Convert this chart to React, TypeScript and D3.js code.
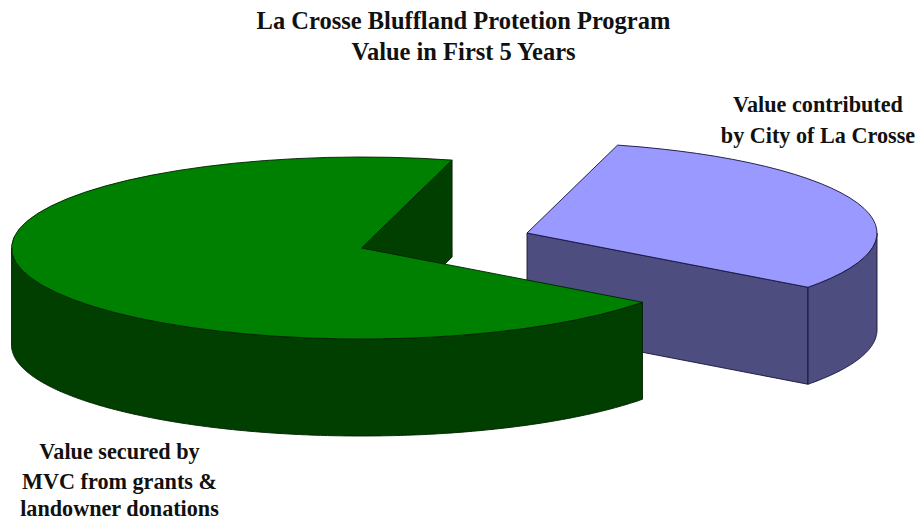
import React from "react";
import * as d3 from "d3";

const sliceNames = ["City of La Crosse", "MVC"];
const sliceValues = [31, 69];
const titleLines = ["La Crosse Bluffland Protetion Program", "Value in First 5 Years"];
const cityLabel = ["Value contributed", "by City of La Crosse"];
const mvcLabel = ["Value secured by", "MVC from grants &", "landowner donations"];

const width = 921;
const height = 521;
const rx = 350;
const ry = 91;
const depth = 97;
const serif = "'Liberation Serif', 'Times New Roman', serif";

const colors: Record<string, { top: string; wall: string; line: string }> = {
  "City of La Crosse": { top: "#9999ff", wall: "#4d4d80", line: "#14143c" },
  MVC: { top: "#008000", wall: "#003f00", line: "#002000" },
};
const centers: Record<string, [number, number]> = {
  "City of La Crosse": [527, 233],
  MVC: [361.5, 248],
};

const slices = d3
  .pie<string>()
  .sort(null)
  .value((d) => sliceValues[sliceNames.indexOf(d)])
  .startAngle((15 * Math.PI) / 180)
  .endAngle((375 * Math.PI) / 180)(sliceNames);

const topArc = d3.arc<d3.PieArcDatum<string>>().innerRadius(0).outerRadius(rx);

// angle runs clockwise from the top of the ellipse, like d3.arc
const px = (t: number) => rx * Math.sin(t);
const py = (t: number) => -ry * Math.cos(t);

// outer rim wall between two angles
const rim = d3
  .area<number>()
  .x(px)
  .y0(py)
  .y1((t) => py(t) + depth);
const rimPath = (a: number, b: number) => rim(d3.range(a, b, 0.01).concat(b)) as string;

// flat cut wall going from the apex out to the rim at angle t
const cutPath = (t: number) =>
  `M0,0L${px(t)},${py(t)}L${px(t)},${py(t) + depth}L0,${depth}Z`;

const Slice = ({ d }: { d: d3.PieArcDatum<string> }) => {
  const c = colors[d.data];
  const [cx, cy] = centers[d.data];
  // only the part of the rim that faces the viewer is drawn
  const rimFrom = Math.max(d.startAngle, Math.PI / 2);
  const rimTo = Math.min(d.endAngle, (3 * Math.PI) / 2);
  return (
    <g transform={`translate(${cx},${cy})`} stroke={c.line} strokeWidth={0.9} strokeLinejoin="round">
      <path d={cutPath(d.endAngle)} fill={c.wall} />
      <path d={rimPath(rimFrom, rimTo)} fill={c.wall} />
      <path
        d={topArc(d) as string}
        transform={`scale(1,${ry / rx})`}
        fill={c.top}
        vectorEffect="non-scaling-stroke"
      />
    </g>
  );
};

const Label = ({ lines, x, ys, size }: { lines: string[]; x: number; ys: number[]; size: number }) => (
  <text textAnchor="middle" fontFamily={serif} fontWeight="bold" fontSize={size} fill="#111">
    {lines.map((l, i) => (
      <tspan key={l} x={x} y={ys[i]}>
        {l}
      </tspan>
    ))}
  </text>
);

export default function App() {
  return (
    <svg
      width={width}
      height={height}
      viewBox={`0 0 ${width} ${height}`}
      style={{ position: "absolute", left: 0, top: 0, background: "#fff" }}
    >
      <Slice d={slices[0]} />
      <Slice d={slices[1]} />
      <Label lines={titleLines} x={463.5} ys={[29, 60]} size={24.5} />
      <Label lines={cityLabel} x={818} ys={[112, 143]} size={22.2} />
      <Label lines={mvcLabel} x={119.5} ys={[459, 489, 516]} size={22.2} />
    </svg>
  );
}
